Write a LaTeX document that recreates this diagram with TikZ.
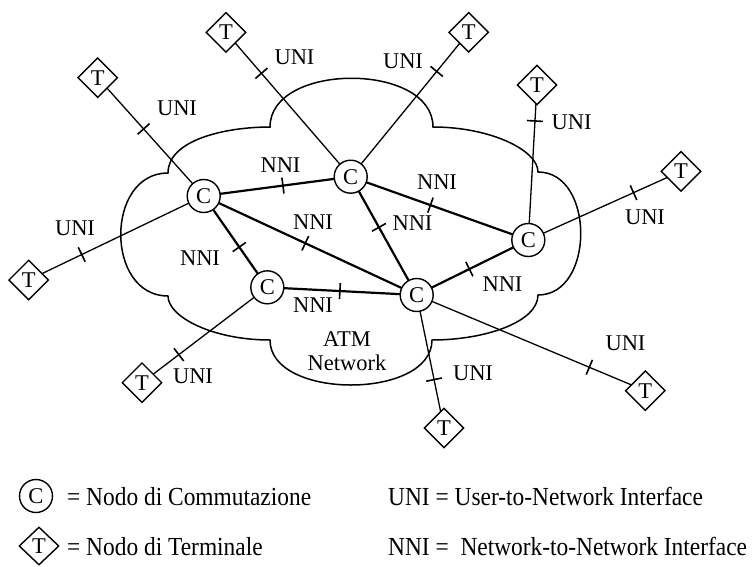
\documentclass[tikz,border=0pt]{standalone}
\usepackage{fontspec}
\setmainfont{Liberation Serif}
\usetikzlibrary{shapes.geometric,backgrounds,calc}
\newcommand\mytick[2]{\draw[tickst] ($(#1)!8pt!90:(#2)$) -- ($(#1)!8pt!-90:(#2)$);}
\begin{document}
\begin{tikzpicture}[x=1pt,y=-1pt,
  lbl/.style={inner sep=0pt, font=\fontsize{22.5}{24}\selectfont},
  cnode/.style={circle, draw, line width=1.4pt, fill=white, minimum size=33pt, inner sep=0pt, font=\fontsize{22.5}{24}\selectfont},
  tnode/.style={diamond, draw, line width=1.4pt, fill=white, minimum width=40pt, minimum height=40pt, inner sep=0pt, font=\fontsize{22.5}{24}\selectfont},
  uni/.style={line width=1.3pt},
  nni/.style={line width=2.2pt},
  tickst/.style={line width=1.6pt},
  cloud/.style={line width=1.5pt},
  legtxt/.style={inner sep=0pt, font=\fontsize{26}{28}\selectfont, anchor=base west}]
\useasboundingbox (0,0) rectangle (756,566);

% cloud
\draw[cloud] (168,173) .. controls (168,140) and (225,127) .. (270,127)
  .. controls (270,62) and (433,62) .. (433,127)
  .. controls (490,127) and (538,150) .. (538,172)
  .. controls (595,172) and (595,295) .. (538,295)
  .. controls (538,322) and (485,340) .. (432,340)
  .. controls (432,400) and (270,400) .. (270,340)
  .. controls (213,340) and (168,317) .. (168,296)
  .. controls (105,296) and (105,173) .. (168,173) -- cycle;
\node[lbl, align=center] (atm) at (347,351) {ATM\\Network};

% switching nodes
\node[cnode] (C1) at (203.7,196) {C};
\node[cnode] (C2) at (350.7,176.7) {C};
\node[cnode] (C3) at (267.3,287.3) {C};
\node[cnode] (C4) at (528.3,240) {C};
\node[cnode] (C5) at (416.7,295) {C};

% terminals
\node[tnode] (T1) at (97.7,77.7) {T};
\node[tnode] (T2) at (226,32.3) {T};
\node[tnode] (T3) at (468.7,32.3) {T};
\node[tnode] (T4) at (537,85) {T};
\node[tnode] (T5) at (681,171.3) {T};
\node[tnode] (T6) at (645.3,390.7) {T};
\node[tnode] (T7) at (444,428) {T};
\node[tnode] (T8) at (142,382.7) {T};
\node[tnode] (T9) at (28.7,280) {T};

\begin{pgfonlayer}{background}
% UNI links
\draw[uni] (T1.center) -- (C1.center) coordinate[pos=0.433] (u1);
\draw[uni] (T2.center) -- (C2.center) coordinate[pos=0.284] (u2);
\draw[uni] (T3.center) -- (C2.center) coordinate[pos=0.271] (u3);
\draw[uni] (T4.center) -- (C4.center) coordinate[pos=0.232] (u4);
\draw[uni] (T5.center) -- (C4.center) coordinate[pos=0.311] (u5);
\draw[uni] (T6.center) -- (C5.center) coordinate[pos=0.245] (u6);
\draw[uni] (T7.center) -- (C5.center) coordinate[pos=0.364] (u7);
\draw[uni] (T8.center) -- (C3.center) coordinate[pos=0.294] (u8);
\draw[uni] (T9.center) -- (C1.center) coordinate[pos=0.303] (u9);
\mytick{u1}{C1.center}
\mytick{u2}{C2.center}
\mytick{u3}{C2.center}
\mytick{u4}{C4.center}
\mytick{u5}{C4.center}
\mytick{u6}{C5.center}
\mytick{u7}{C5.center}
\mytick{u8}{C3.center}
\mytick{u9}{C1.center}
% NNI links
\draw[nni] (C1.center) -- (C2.center) coordinate[pos=0.539] (n1);
\draw[nni] (C1.center) -- (C3.center) coordinate[pos=0.559] (n2);
\draw[nni] (C1.center) -- (C5.center) coordinate[pos=0.477] (n3);
\draw[nni] (C2.center) -- (C5.center) coordinate[pos=0.428] (n4);
\draw[nni] (C2.center) -- (C4.center) coordinate[pos=0.449] (n5);
\draw[nni] (C3.center) -- (C5.center) coordinate[pos=0.486] (n6);
\draw[nni] (C5.center) -- (C4.center) coordinate[pos=0.472] (n7);
\mytick{n1}{C2.center}
\mytick{n2}{C3.center}
\mytick{n3}{C5.center}
\mytick{n4}{C5.center}
\mytick{n5}{C4.center}
\mytick{n6}{C5.center}
\mytick{n7}{C4.center}
\end{pgfonlayer}

% UNI labels
\node[lbl] (lu1) at (177,108) {UNI};
\node[lbl] (lu2) at (294.5,57) {UNI};
\node[lbl] (lu3) at (403,61) {UNI};
\node[lbl] (lu4) at (571.7,122.7) {UNI};
\node[lbl] (lu5) at (645,217) {UNI};
\node[lbl] (lu6) at (625.5,343) {UNI};
\node[lbl] (lu7) at (473,373) {UNI};
\node[lbl] (lu8) at (193,376.7) {UNI};
\node[lbl] (lu9) at (75,228) {UNI};
% NNI labels
\node[lbl] (ln1) at (280.5,165) {NNI};
\node[lbl] (ln2) at (200,258) {NNI};
\node[lbl] (ln3) at (313,221.7) {NNI};
\node[lbl] (ln4) at (412.5,223) {NNI};
\node[lbl] (ln5) at (437,181.7) {NNI};
\node[lbl] (ln6) at (313,305) {NNI};
\node[lbl] (ln7) at (502.5,284) {NNI};

% legend
\node[cnode] (LC) at (36,496) {C};
\node[tnode, minimum height=38pt] (LT) at (39,546) {T};
\node[legtxt] (L1) at (67,505) {\scalebox{0.9}[1]{= Nodo di Commutazione}};
\node[legtxt] (L2) at (67,555) {\scalebox{0.9}[1]{= Nodo di Terminale}};
\node[legtxt] (L3) at (388,505) {\scalebox{0.9}[1]{UNI = User-to-Network Interface}};
\node[legtxt] (L4) at (388,555) {\scalebox{0.9}[1]{NNI =\ \ Network-to-Network Interface}};
\end{tikzpicture}
\end{document}
